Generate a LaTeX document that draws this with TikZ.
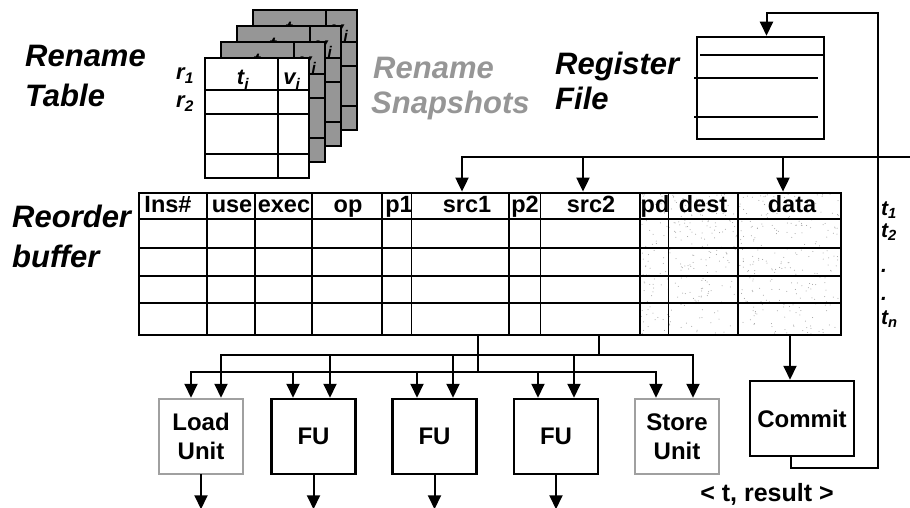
\documentclass[tikz,border=0pt]{standalone}
\usepackage{fontspec}
\setmainfont{Liberation Sans}
\usetikzlibrary{arrows.meta}
\definecolor{snapgray}{RGB}{150,150,150}
\definecolor{labgray}{RGB}{150,150,150}
\definecolor{unitgray}{RGB}{160,160,160}
\definecolor{dotgray}{RGB}{155,155,155}

% one rename table: #1,#2 top-left corner, #3 fill colour
\newcommand\renametable[3]{%
  \begin{scope}[shift={(#1,#2)}]
    \filldraw[fill=#3, line width=2.2] (0,0) rectangle (104,120);
    \draw[line width=2.2] (0,32) -- (104,32) (0,56) -- (104,56) (0,96) -- (104,96) (73,0) -- (73,120);
    \node[tabtxt] at (38,27) {t\textsubscript{i}};
    \node[tabtxt] at (87,27) {v\textsubscript{i}};
  \end{scope}}

\begin{document}
\begin{tikzpicture}[x=1pt,y=-1pt,
  wire/.style={line width=2, line cap=rect},
  arr/.style={line width=2, line cap=rect, -{Triangle[width=13pt,length=14pt]}},
  unit/.style={draw, line width=2.5, inner sep=0, minimum width=84pt, minimum height=75pt,
    align=center, font=\fontsize{24}{29}\selectfont\bfseries},
  grayunit/.style={unit, draw=unitgray},
  title/.style={inner sep=0, anchor=base west, font=\fontsize{31}{32}\selectfont\bfseries\itshape},
  colhead/.style={inner sep=0, anchor=base, font=\fontsize{23.5}{24}\selectfont\bfseries},
  tabtxt/.style={inner sep=0, anchor=base, font=\fontsize{22}{22}\selectfont\bfseries\itshape},
  tag/.style={inner sep=0, anchor=base west, font=\fontsize{21}{22}\selectfont\bfseries\itshape}]
\useasboundingbox (0,0) rectangle (910,508);

% ---------- rename table and its snapshots ----------
\renametable{253}{10}{snapgray}
\renametable{237}{26}{snapgray}
\renametable{221}{42}{snapgray}
\renametable{205}{58}{white}
\node[tabtxt, anchor=base] (r1) at (185,80) {r\textsubscript{1}};
\node[tabtxt, anchor=base] (r2) at (185,108) {r\textsubscript{2}};

\node[title] (rt1) at (25,67) {Rename};
\node[title] (rt2) at (25,107) {Table};
\node[title, text=labgray] (rs1) at (373,79) {Rename};
\node[title, text=labgray] (rs2) at (371,114) {Snapshots};

% ---------- register file ----------
\node[title] (rg1) at (555,75) {Register};
\node[title] (rg2) at (555,110) {File};
\node[draw, line width=2.5, inner sep=0, minimum width=127pt, minimum height=102pt] (rf) at (760.5,88) {};
\draw[line width=2.2] (700,55) -- (824,55) (694,78) -- (818,78) (694,117) -- (818,117);

% ---------- reorder buffer ----------
\node[title] (rb1) at (12,227) {Reorder};
\node[title] (rb2) at (12,267) {buffer};

\pgfmathsetseed{11}
\foreach \k in {1,...,500}{%
  \pgfmathsetmacro\px{641+199*rnd}%
  \pgfmathsetmacro\py{194+140*rnd}%
  \fill[dotgray] (\px,\py) circle (0.5);}

\node[draw, line width=2.8, inner sep=0, minimum width=702pt, minimum height=142pt] (rob) at (490,264) {};
\draw[line width=2.4] (139,219) -- (841,219) (139,248) -- (841,248) (139,276) -- (841,276) (139,303) -- (841,303);
\foreach \cx in {207,255,312,382,509,640,738} \draw[line width=2.2] (\cx,193) -- (\cx,335);
\foreach \cx in {411,540,668} \draw[line width=1] (\cx,193) -- (\cx,335);

\node[colhead] (h1) at (168,212.5) {Ins\#};
\node[colhead] (h2) at (232,212.5) {use};
\node[colhead] (h3) at (284,212.5) {exec};
\node[colhead] (h4) at (348,212.5) {op};
\node[colhead] (h5) at (399,212.5) {p1};
\node[colhead] (h6) at (467,212.5) {src1};
\node[colhead] (h7) at (525,212.5) {p2};
\node[colhead] (h8) at (591,212.5) {src2};
\node[colhead] (h9) at (655,212.5) {pd};
\node[colhead] (h10) at (703,212.5) {dest};
\node[colhead] (h11) at (792,212.5) {data};

\node[tag] (t1) at (881,215) {t\textsubscript{1}};
\node[tag] (t2) at (881,237) {t\textsubscript{2}};
\node[tag] (d1) at (881,272) {.};
\node[tag] (d2) at (881,300) {.};
\node[tag] (tn) at (881,324) {t\textsubscript{n}};

% ---------- execution units ----------
\node[grayunit] (ld) at (201,436.5) {Load\\Unit};
\node[unit] (fu1) at (313.5,436.5) {FU};
\node[unit] (fu2) at (434.5,436.5) {FU};
\node[unit] (fu3) at (556,436.5) {FU};
\node[grayunit] (st) at (677,436.5) {Store\\Unit};
\node[unit, minimum width=104pt] (cmt) at (802,418.5) {Commit};
\node[inner sep=0, anchor=base, font=\fontsize{25}{26}\selectfont\bfseries] (res) at (767,501) {< t, result >};

% ---------- source bus into the reorder buffer ----------
\coordinate (busL) at (462,157);
\coordinate (busR) at (910,157);
\coordinate (s2in) at (583,157);
\coordinate (dtin) at (783,157);
\draw[wire] (busR) -- (busL);
\draw[arr] (busL) -- (busL |- rob.north);
\draw[arr] (s2in) -- (s2in |- rob.north);
\draw[arr] (dtin) -- (dtin |- rob.north);

% ---------- write-back loop from commit to the register file ----------
\coordinate (wb) at (878,468);
\coordinate (wt) at (878,13);
\draw[arr] ([xshift=-11pt]cmt.south) |- (wb) -- (wt) -| ([xshift=6pt]rf.north);

% ---------- operand buses to the units ----------
\coordinate (lb) at (0,372);
\coordinate (ub) at (0,355);
\coordinate (s1out) at (478,0);
\coordinate (s2out) at (599,0);
\coordinate (cmtin) at ([xshift=-12pt]cmt.north);

\draw[wire] (rob.south -| s1out) -- (lb -| s1out);
\draw[wire] (rob.south -| s2out) -- (ub -| s2out);
\draw[arr] (rob.south -| cmtin) -- (cmtin);

\draw[wire] ([xshift=-10pt]ld.north |- lb) -- ([xshift=-21pt]st.north |- lb);
\draw[wire] ([xshift=20pt]ld.north |- ub) -- ([xshift=16pt]st.north |- ub);

\foreach \u/\dl/\dr in {ld/-10/20, fu1/-20.5/16.5, fu2/-17.5/18.5, fu3/-18/18, st/-21/16}{%
  \draw[arr] ([xshift=\dl pt]\u.north |- lb) -- ([xshift=\dl pt]\u.north);
  \draw[arr] ([xshift=\dr pt]\u.north |- ub) -- ([xshift=\dr pt]\u.north);}

% ---------- unit results ----------
\foreach \u in {ld, fu1, fu2, fu3}
  \draw[arr] (\u.south) -- ++(0,34);
\end{tikzpicture}
\end{document}
